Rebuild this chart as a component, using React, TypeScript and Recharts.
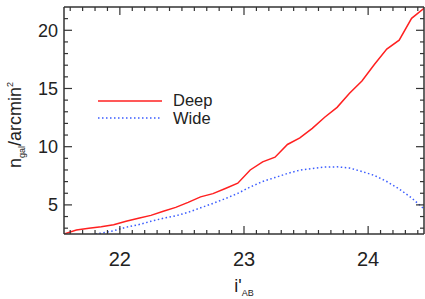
import { LineChart, Line, XAxis, YAxis, Legend } from 'recharts'

// i'_AB magnitude bins
const magnitudes = [
  21.55, 21.65, 21.75, 21.85, 21.95, 22.05, 22.15, 22.25, 22.35, 22.45,
  22.55, 22.65, 22.75, 22.85, 22.95, 23.05, 23.15, 23.25, 23.35, 23.45,
  23.55, 23.65, 23.75, 23.85, 23.95, 24.05, 24.15, 24.25, 24.35, 24.45,
]

// galaxy density, per arcmin^2
const deep = [
  2.5, 2.84, 3.0, 3.12, 3.29, 3.59, 3.85, 4.1, 4.45, 4.79,
  5.22, 5.69, 5.97, 6.41, 6.86, 8.0, 8.7, 9.1, 10.19, 10.76,
  11.58, 12.53, 13.38, 14.6, 15.65, 17.06, 18.38, 19.15, 21.03, 21.88,
]
const wide = [
  2.0, 2.2, 2.41, 2.58, 2.78, 3.08, 3.3, 3.59, 3.85, 4.06,
  4.36, 4.75, 5.13, 5.54, 5.99, 6.54, 7.01, 7.35, 7.7, 7.99,
  8.12, 8.25, 8.27, 8.17, 7.87, 7.53, 7.01, 6.37, 5.6, 4.66,
]

const xMajor = [22, 23, 24]
const yMajor = [5, 10, 15, 20]

const data = magnitudes.map((mag, i) => ({ mag, deep: deep[i], wide: wide[i] }))

// minor ticks every 0.1 mag and every 1 unit of density
const xTicks: number[] = []
for (let k = 216; k <= 244; k++) xTicks.push(k / 10)
const yTicks: number[] = []
for (let v = 3; v <= 21; v++) yTicks.push(v)

const FONT = '"Liberation Sans", Arial, sans-serif'
const AXIS = '#333'
const TEXT = '#222'
const MAJOR = 8
const MINOR = 4

const series = [
  { key: 'deep', name: 'Deep', color: '#ff2020', dash: undefined as string | undefined, width: 1.5 },
  { key: 'wide', name: 'Wide', color: '#3a5cff', dash: '1.5 2.5', width: 1.5 },
]

const isMajor = (v: number, majors: number[]) => majors.some((m) => Math.abs(m - v) < 1e-6)

function BottomTick({ x, y, payload }: any) {
  const major = isMajor(payload.value, xMajor)
  return (
    <g>
      <line x1={x} x2={x} y1={y} y2={y - (major ? MAJOR : MINOR)} stroke={AXIS} strokeWidth={1.2} />
      {major && (
        <text x={x} y={y + 32} textAnchor="middle" fontSize={20} fontFamily={FONT} fill={TEXT}>
          {Math.round(payload.value)}
        </text>
      )}
    </g>
  )
}

function TopTick({ x, y, payload }: any) {
  const major = isMajor(payload.value, xMajor)
  return <line x1={x} x2={x} y1={y} y2={y + (major ? MAJOR : MINOR)} stroke={AXIS} strokeWidth={1.2} />
}

function LeftTick({ x, y, payload }: any) {
  const major = isMajor(payload.value, yMajor)
  return (
    <g>
      <line x1={x} x2={x + (major ? MAJOR : MINOR)} y1={y} y2={y} stroke={AXIS} strokeWidth={1.2} />
      {major && (
        <text x={x - 6} y={y + 6.5} textAnchor="end" fontSize={18} fontFamily={FONT} fill={TEXT}>
          {payload.value}
        </text>
      )}
    </g>
  )
}

function RightTick({ x, y, payload }: any) {
  const major = isMajor(payload.value, yMajor)
  return <line x1={x} x2={x - (major ? MAJOR : MINOR)} y1={y} y2={y} stroke={AXIS} strokeWidth={1.2} />
}

const yLabel = () => (
  <text x={21} y={125} transform="rotate(-90 21 125)" textAnchor="middle" fontSize={18} fontFamily={FONT} fill={TEXT}>
    <tspan>n</tspan>
    <tspan fontSize={9} dy={4}>gal</tspan>
    <tspan dy={-4}>/arcmin</tspan>
    <tspan fontSize={9} dy={-8}>2</tspan>
  </text>
)

const xLabel = () => (
  <text x={244} y={292} textAnchor="middle" fontSize={18} fontFamily={FONT} fill={TEXT}>
    <tspan>i'</tspan>
    <tspan fontSize={9} dy={4}>AB</tspan>
  </text>
)

function LegendBox() {
  return (
    <div style={{ fontFamily: FONT, color: TEXT }}>
      {series.map((s) => (
        <div key={s.key} style={{ display: 'flex', alignItems: 'center', height: 17.5 }}>
          <svg width={64} height={4} style={{ marginRight: 11 }}>
            <line x1={0} x2={64} y1={2} y2={2} stroke={s.color} strokeWidth={s.width} strokeDasharray={s.dash} />
          </svg>
          <span style={{ fontSize: 16.5, lineHeight: '17.5px' }}>{s.name}</span>
        </div>
      ))}
    </div>
  )
}

const xAxisCommon = {
  dataKey: 'mag',
  type: 'number' as const,
  domain: [21.55, 24.45],
  allowDataOverflow: true,
  ticks: xTicks,
  interval: 0,
  height: 1,
  tickSize: 0,
  tickMargin: 0,
  tickLine: false,
  axisLine: { stroke: AXIS, strokeWidth: 1.5 },
}

const yAxisCommon = {
  type: 'number' as const,
  domain: [2.5, 22],
  allowDataOverflow: true,
  ticks: yTicks,
  interval: 0,
  width: 1,
  tickSize: 0,
  tickMargin: 0,
  tickLine: false,
  axisLine: { stroke: AXIS, strokeWidth: 1.5 },
}

export default function App() {
  return (
    <div style={{ position: 'absolute', left: 0, top: 0, background: '#fff' }}>
      <LineChart width={425} height={299} data={data} margin={{ top: 6, right: 0, left: 63, bottom: 64 }}>
        <XAxis {...xAxisCommon} tick={<BottomTick />} label={xLabel} />
        <XAxis {...xAxisCommon} xAxisId="top" orientation="top" tick={<TopTick />} />
        <YAxis {...yAxisCommon} tick={<LeftTick />} label={yLabel} />
        <YAxis {...yAxisCommon} yAxisId="right" orientation="right" tick={<RightTick />} />
        <Legend
          layout="vertical"
          align="center"
          verticalAlign="middle"
          content={<LegendBox />}
          wrapperStyle={{ left: 98, top: 92, width: 130 }}
        />
        {series.map((s) => (
          <Line
            key={s.key}
            dataKey={s.key}
            name={s.name}
            type="linear"
            stroke={s.color}
            strokeWidth={s.width}
            strokeDasharray={s.dash}
            dot={false}
            activeDot={false}
            isAnimationActive={false}
          />
        ))}
      </LineChart>
    </div>
  )
}
